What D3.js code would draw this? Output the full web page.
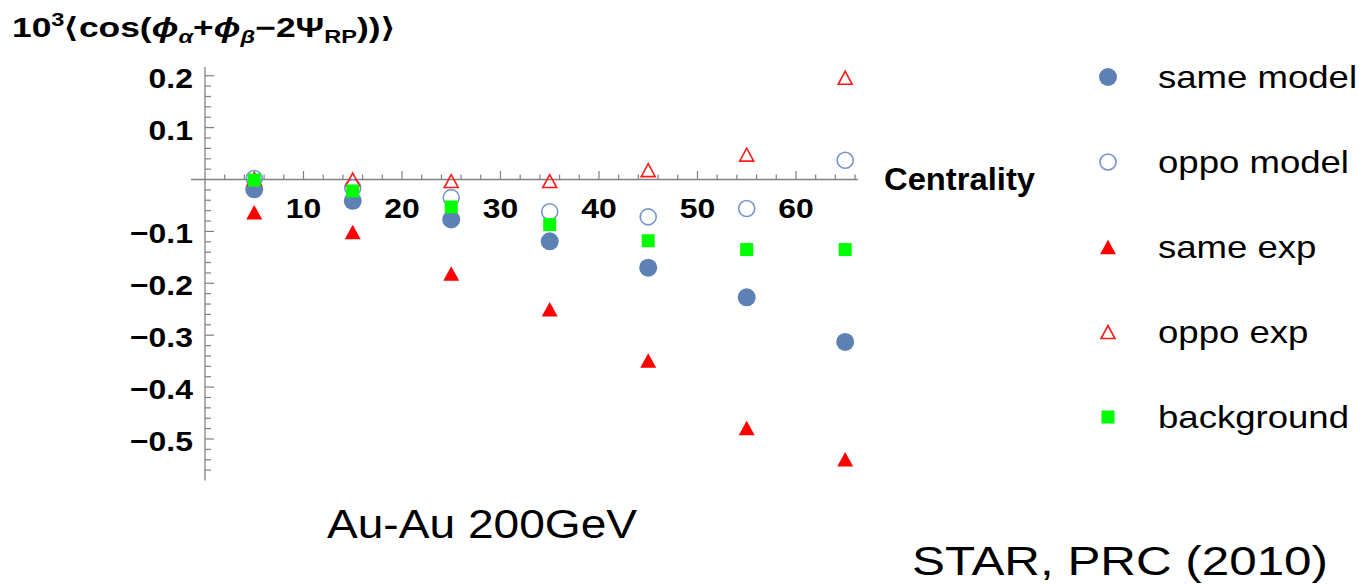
<!DOCTYPE html>
<html>
<head>
<style type="text/css">
body { margin: 0; background: #fff; }
.ticklab { font-family: "Liberation Sans", Arial, sans-serif; font-weight: bold; font-size: 28px; fill: #000; }
.leg { font-family: "Liberation Sans", Arial, sans-serif; font-size: 31.5px; fill: #000; }
.note { font-family: "Liberation Sans", Arial, sans-serif; font-size: 40px; fill: #000; }
</style>
<script src="https://d3js.org/d3.v7.min.js"></script>
</head>
<body>
<script type="text/javascript">
var width = 1365;
var height = 586;

var centrality = [5, 15, 25, 35, 45, 55, 65];
var sameModel  = [-0.019, -0.041, -0.077, -0.119, -0.170, -0.227, -0.313];
var oppoModel  = [0.002, -0.016, -0.035, -0.062, -0.072, -0.056, 0.037];
var sameExp    = [-0.063, -0.101, -0.181, -0.250, -0.349, -0.479, -0.539];
var oppoExp    = [0.001, 0.000, -0.003, -0.003, 0.018, 0.048, 0.196];
var background = [-0.001, -0.022, -0.053, -0.087, -0.118, -0.135, -0.135];
var seriesNames = ["same model", "oppo model", "same exp", "oppo exp", "background"];
var xTicks = [10, 20, 30, 40, 50, 60];
var yTicks = [-0.5, -0.4, -0.3, -0.2, -0.1, 0.1, 0.2];

var svg = d3.select("body").append("svg").attr("width", width).attr("height", height);

var x = d3.scaleLinear().domain([0, 66.3]).range([205, 858]);
var y = d3.scaleLinear().domain([-0.58, 0.217]).range([480.5, 66.9]);

// the picture is a bit wider than tall, so text gets stretched sideways
function widen(sel, f) {
	sel.each(function() {
		var w = this.getComputedTextLength();
		d3.select(this).attr("textLength", w * f).attr("lengthAdjust", "spacingAndGlyphs");
	});
}

// axes lines
svg.append("line").attr("x1", 191).attr("x2", x(66.3))
	.attr("y1", y(0)).attr("y2", y(0))
	.attr("stroke", "#808080").attr("stroke-width", 1.3);
svg.append("line").attr("x1", x(0)).attr("x2", x(0))
	.attr("y1", y(0.217)).attr("y2", y(-0.58))
	.attr("stroke", "#808080").attr("stroke-width", 1.3);

// ticks
var xMinor = d3.range(2, 66.1, 2);
svg.append("g").selectAll("line").data(xMinor).enter().append("line")
	.attr("x1", function(d){ return x(d); }).attr("x2", function(d){ return x(d); })
	.attr("y1", y(0)).attr("y2", function(d){ return y(0) - (d % 10 === 0 ? 8.5 : 5); })
	.attr("stroke", "#808080").attr("stroke-width", 1.2);

var yMinor = d3.range(-56, 21, 2).map(function(v){ return v / 100; }).filter(function(v){ return Math.abs(v) > 1e-9; });
svg.append("g").selectAll("line").data(yMinor).enter().append("line")
	.attr("x1", x(0)).attr("x2", function(d){ return x(0) + (Math.abs(Math.round(d * 100)) % 10 === 0 ? 9 : 6); })
	.attr("y1", function(d){ return y(d); }).attr("y2", function(d){ return y(d); })
	.attr("stroke", "#808080").attr("stroke-width", 1.2);

// tick labels
svg.append("g").selectAll("text").data(xTicks).enter().append("text")
	.attr("class", "ticklab")
	.attr("x", function(d){ return x(d); })
	.attr("y", y(0) + 38)
	.attr("text-anchor", "middle")
	.text(function(d){ return d; })
	.call(widen, 1.14);

svg.append("g").selectAll("text").data(yTicks).enter().append("text")
	.attr("class", "ticklab")
	.attr("x", 193)
	.attr("y", function(d){ return y(d) + 12; })
	.attr("text-anchor", "end")
	.text(function(d){ return d < 0 ? "\u2212" + d3.format(".1f")(-d) : d3.format(".1f")(d); })
	.call(widen, 1.14);

svg.append("text").attr("class", "ticklab")
	.attr("x", 884).attr("y", 190)
	.style("font-size", "30.5px")
	.attr("textLength", 151).attr("lengthAdjust", "spacingAndGlyphs")
	.text("Centrality");

// y label on top
var ttl = svg.append("text").attr("class", "ticklab")
	.attr("x", 12).attr("y", 37).style("font-size", "27px")
	.attr("textLength", 383).attr("lengthAdjust", "spacingAndGlyphs");
ttl.append("tspan").text("10");
ttl.append("tspan").attr("dy", -11).style("font-size", "18px").text("3");
ttl.append("tspan").attr("dy", 11).text("\u27E8cos(");
ttl.append("tspan").style("font-style", "italic").text("\u03D5");
ttl.append("tspan").attr("dy", 6).style("font-size", "18px").style("font-style", "italic").text("\u03B1");
ttl.append("tspan").attr("dy", -6).text("+");
ttl.append("tspan").style("font-style", "italic").text("\u03D5");
ttl.append("tspan").attr("dy", 6).style("font-size", "18px").style("font-style", "italic").text("\u03B2");
ttl.append("tspan").attr("dy", -6).text("\u22122\u03A8");
ttl.append("tspan").attr("dy", 6).style("font-size", "18px").text("RP");
ttl.append("tspan").attr("dy", -6).text("))\u27E9");

// markers
function tri(w, h) {
	return "M0," + (-h / 2) + "L" + (w / 2) + "," + (h / 2) + "L" + (-w / 2) + "," + (h / 2) + "Z";
}
var drawers = [
	function(g) { g.append("circle").attr("r", 9).attr("fill", "#5e81b5"); },
	function(g) { g.append("circle").attr("r", 8).attr("fill", "none").attr("stroke", "#7596cc").attr("stroke-width", 1.6); },
	function(g) { g.append("path").attr("d", tri(16, 14.5)).attr("fill", "#ff0000"); },
	function(g) { g.append("path").attr("d", tri(14, 13)).attr("fill", "none").attr("stroke", "#ff1a1a").attr("stroke-width", 1.6); },
	function(g) { g.append("rect").attr("x", -6.5).attr("y", -6.5).attr("width", 13).attr("height", 13).attr("fill", "#00ff00"); }
];
var allSeries = [sameModel, oppoModel, sameExp, oppoExp, background];

allSeries.forEach(function(vals, k) {
	svg.append("g").selectAll("g").data(vals).enter().append("g")
		.attr("transform", function(d, i){ return "translate(" + x(centrality[i]) + "," + y(d) + ")"; })
		.each(function(){ drawers[k](d3.select(this)); });
});

// legend
var legY = d3.scaleLinear().domain([0, 4]).range([77, 417]);
seriesNames.forEach(function(name, k) {
	var g = svg.append("g").attr("transform", "translate(1108," + legY(k) + ")");
	drawers[k](g);
	svg.append("text").attr("class", "leg")
		.attr("x", 1158).attr("y", legY(k) + 11)
		.text(name)
		.call(widen, 1.16);
});

// notes
svg.append("text").attr("class", "note").attr("x", 327).attr("y", 538)
	.attr("textLength", 310).attr("lengthAdjust", "spacingAndGlyphs")
	.text("Au-Au 200GeV");
svg.append("text").attr("class", "note").attr("x", 912).attr("y", 575)
	.attr("textLength", 416).attr("lengthAdjust", "spacingAndGlyphs")
	.text("STAR, PRC (2010)");
</script>
</body>
</html>
